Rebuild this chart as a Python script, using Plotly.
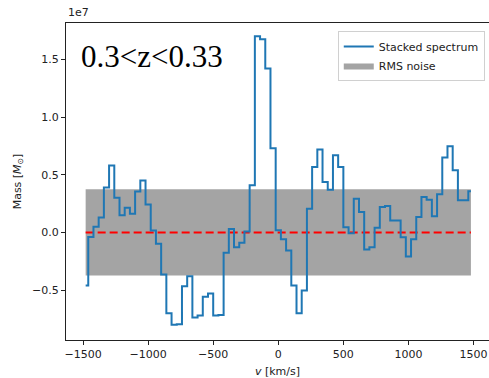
import plotly.graph_objects as go

# Velocity channels [km/s]
velocity = [-1480, -1440, -1400, -1360, -1320, -1280, -1240, -1200, -1160, -1120,
            -1080, -1040, -1000, -960, -920, -880, -840, -800, -760, -720,
            -680, -640, -600, -560, -520, -480, -440, -400, -360, -320,
            -280, -240, -200, -160, -120, -80, -40, 0, 40, 80,
            120, 160, 200, 240, 280, 320, 360, 400, 440, 480,
            520, 560, 600, 640, 680, 720, 760, 800, 840, 880,
            920, 960, 1000, 1040, 1080, 1120, 1160, 1200, 1240, 1280,
            1320, 1360, 1400, 1440, 1480]

# Stacked spectrum mass [1e7 Msun]
mass_1e7 = [-0.46, -0.04, 0.05, 0.13, 0.39, 0.58, 0.30, 0.15, 0.215, 0.163,
            0.354, 0.45, 0.243, 0.017, -0.098, -0.365, -0.70, -0.80, -0.795, -0.467,
            -0.38, -0.737, -0.72, -0.557, -0.528, -0.72, -0.715, -0.177, 0.03, -0.128,
            -0.09, 0.009, 0.41, 1.70, 1.675, 1.42, 0.73, 0.02, -0.06, -0.157,
            -0.46, -0.70, -0.504, 0.206, 0.568, 0.719, 0.437, 0.371, 0.67, 0.568,
            0.046, -0.006, 0.293, 0.177, -0.148, -0.128, 0.041, 0.22, 0.229, 0.104,
            0.104, -0.041, -0.209, -0.058, 0.133, 0.307, 0.284, 0.14, 0.33, 0.65,
            0.748, 0.539, 0.278, 0.278, 0.357]

rms_1e7 = 0.374

x_ticks = [-1500, -1000, -500, 0, 500, 1000, 1500]
y_ticks_1e7 = [-0.5, 0.0, 0.5, 1.0, 1.5]
y_tick_labels = ["\u22120.5", "0.0", "0.5", "1.0", "1.5"]

scale = 1e7
mass = [m * scale for m in mass_1e7]
rms = rms_1e7 * scale
vmin, vmax = velocity[0], velocity[-1]

fig = go.Figure()

fig.add_trace(go.Scatter(
    x=[vmin, vmax, vmax, vmin, vmin],
    y=[-rms, -rms, rms, rms, -rms],
    fill="toself", fillcolor="#a4a4a4", mode="lines",
    line=dict(width=0, color="#a4a4a4"),
    name="RMS noise", legendrank=2, hoverinfo="skip"))

fig.add_trace(go.Scatter(
    x=[vmin, vmax], y=[0, 0], mode="lines",
    line=dict(color="#ff0000", width=2, dash="8px,4px"),
    showlegend=False))

fig.add_trace(go.Scatter(
    x=velocity, y=mass, mode="lines",
    line=dict(color="#1f77b4", width=2, shape="hvh"),
    name="Stacked spectrum", legendrank=1))

tick_font = dict(family="DejaVu Sans", size=11, color="#222222")

fig.update_layout(
    width=489, height=378,
    margin=dict(l=66, r=0, t=23, b=38),
    paper_bgcolor="white", plot_bgcolor="white",
    font=tick_font,
    showlegend=True,
    legend=dict(x=0.99, y=0.975, xanchor="right", yanchor="top",
                bgcolor="rgba(255,255,255,0.8)", bordercolor="#d0d0d0",
                borderwidth=1, font=dict(family="DejaVu Sans", size=11, color="#222222"),
                tracegroupgap=0, itemwidth=30),
    xaxis=dict(range=[-1631, 1619], tickvals=x_ticks,
               ticktext=[("\u2212" + str(-t)) if t < 0 else str(t) for t in x_ticks],
               ticks="outside", ticklen=4, tickcolor="#222222",
               showline=True, linecolor="#222222", linewidth=1, mirror=True,
               showgrid=False, zeroline=False,
               title=dict(text="<i>v</i> [km/s]", standoff=7,
                          font=dict(family="DejaVu Sans", size=11, color="#222222"))),
    yaxis=dict(range=[-0.932 * scale, 1.815 * scale],
               tickvals=[t * scale for t in y_ticks_1e7], ticktext=y_tick_labels,
               ticks="outside", ticklen=4, tickcolor="#222222",
               showline=True, linecolor="#222222", linewidth=1, mirror=True,
               showgrid=False, zeroline=False,
               title=dict(text="Mass [<i>M</i><sub>\u2299</sub>]", standoff=8,
                          font=dict(family="DejaVu Sans", size=11, color="#222222"))),
    annotations=[
        dict(text="1e7", x=0, y=1, xref="paper", yref="paper",
             xanchor="left", yanchor="bottom", showarrow=False, yshift=2,
             font=dict(family="DejaVu Sans", size=11, color="#222222")),
        dict(text="0.3&lt;z&lt;0.33", x=0.03, y=0.955, xref="paper", yref="paper",
             xanchor="left", yanchor="top", showarrow=False,
             font=dict(family="Liberation Serif", size=31, color="black")),
    ],
)

fig.write_html("out.html")
